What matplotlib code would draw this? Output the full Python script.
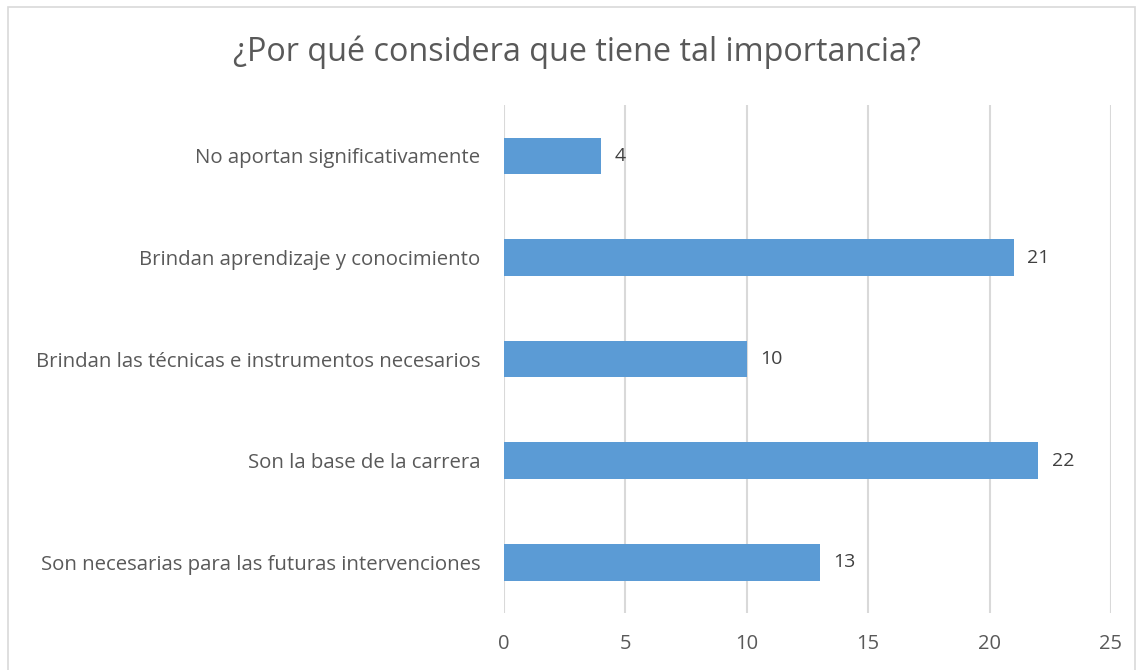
import matplotlib.pyplot as plt
from matplotlib.patches import Rectangle

categories = [
    "Son necesarias para las futuras intervenciones",
    "Son la base de la carrera",
    "Brindan las técnicas e instrumentos necesarios",
    "Brindan aprendizaje y conocimiento",
    "No aportan significativamente",
]
values = [13, 22, 10, 21, 4]
xticks = [0, 5, 10, 15, 20, 25]

plt.rcParams['font.family'] = ['Open Sans', 'DejaVu Sans']
text_color = '#595959'

fig = plt.figure(figsize=(11.43, 6.70), dpi=100)
ax = fig.add_axes([0.441, 0.085, 0.531, 0.758])

y = range(len(categories))
ax.barh(y, values, height=0.36, color='#5b9bd5', zorder=3)
for i, v in zip(y, values):
    ax.text(v + 0.55, i, str(v), va='center', ha='left', fontsize=14, color='#404040')

ax.set_xlim(0, 25)
ax.set_ylim(-0.5, len(categories) - 0.5)
ax.set_xticks(xticks)
ax.set_yticks(list(y))
ax.set_yticklabels(categories)
ax.xaxis.grid(True, color='#d9d9d9', linewidth=1.5, zorder=0)
ax.tick_params(axis='x', length=0, pad=15, labelsize=14.5, labelcolor=text_color)
ax.tick_params(axis='y', length=0, pad=17, labelsize=14.7, labelcolor=text_color)
for s in ax.spines.values():
    s.set_visible(False)

fig.text(0.505, 0.922, "¿Por qué considera que tiene tal importancia?",
         ha='center', va='center', fontsize=23.3, color=text_color)

# chart-area border
fig.patches.append(Rectangle((0.007, -0.01), 0.986, 1.0, transform=fig.transFigure,
                             fill=False, edgecolor='#d9d9d9', linewidth=1.2))

fig.savefig('out.png', dpi=100)
